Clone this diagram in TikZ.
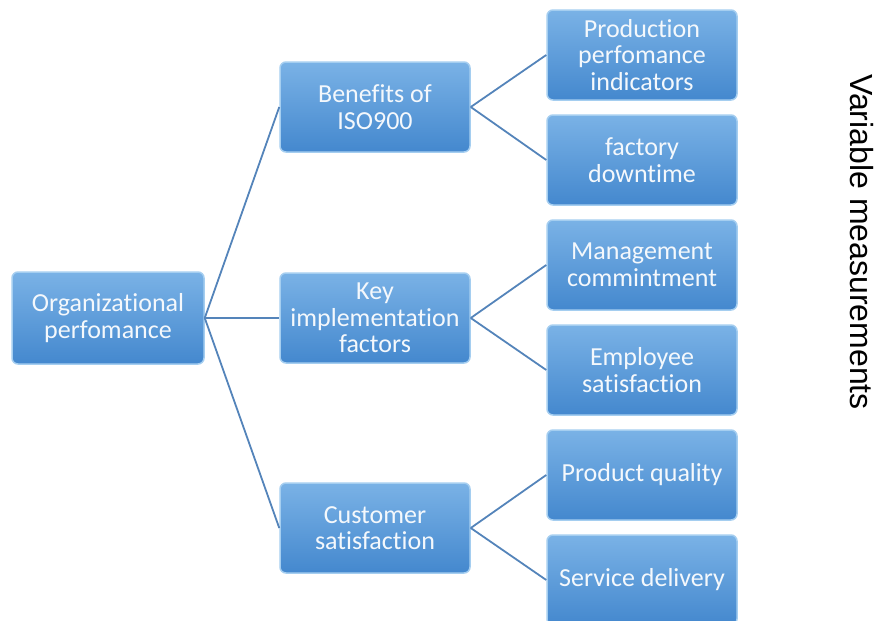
\documentclass[tikz,border=0pt]{standalone}
\usepackage{fontspec}
\setmainfont[Ligatures=NoCommon]{Carlito}
\newfontfamily\arialfont{Liberation Sans}
\usetikzlibrary{positioning}

\definecolor{boxlight}{RGB}{122,178,230}
\definecolor{boxdark}{RGB}{68,136,206}
\definecolor{boxedge}{RGB}{165,206,240}
\definecolor{linkblue}{RGB}{84,132,186}
\definecolor{boxtext}{RGB}{244,248,252}

\begin{document}
\begin{tikzpicture}[x=1pt, y=-1pt,
    box/.style={rectangle, rounded corners=6pt, draw=boxedge, line width=1.5pt,
      top color=boxlight, bottom color=boxdark, text=boxtext, align=center,
      minimum width=190pt, minimum height=90pt, inner sep=2pt,
      font=\fontsize{26}{26.5}\selectfont},
    link/.style={draw=linkblue, line width=1.8pt}]
  \useasboundingbox (0,0) rectangle (884,621);

  % first level
  \node[box, minimum width=192pt, minimum height=92pt] (org) at (108,318) {Organizational\\perfomance};

  % second level
  \node[box] (ben) at (375,107) {Benefits of\\ISO900};
  \node[box] (key) at (375,318) {Key\\implementation\\factors};
  \node[box] (cust) at (375,528) {Customer\\satisfaction};

  % measured variables
  \node[box] (prod) at (642,55) {Production\\perfomance\\indicators};
  \node[box] (down) at (642,160) {factory\\downtime};
  \node[box] (mgmt) at (642,265) {Management\\commintment};
  \node[box] (empl) at (642,370) {Employee\\satisfaction};
  \node[box] (qual) at (642,475) {Product quality};
  \node[box] (serv) at (642,580) {Service delivery};

  \foreach \b in {ben, key, cust}
    \draw[link] (org.east) -- (\b.west);
  \draw[link] (ben.east) -- (prod.west);
  \draw[link] (ben.east) -- (down.west);
  \draw[link] (key.east) -- (mgmt.west);
  \draw[link] (key.east) -- (empl.west);
  \draw[link] (cust.east) -- (qual.west);
  \draw[link] (cust.east) -- (serv.west);

  \node[rotate=-90, font=\arialfont\fontsize{32}{36}\selectfont] (var) at (862,242) {Variable measurements};
\end{tikzpicture}
\end{document}
